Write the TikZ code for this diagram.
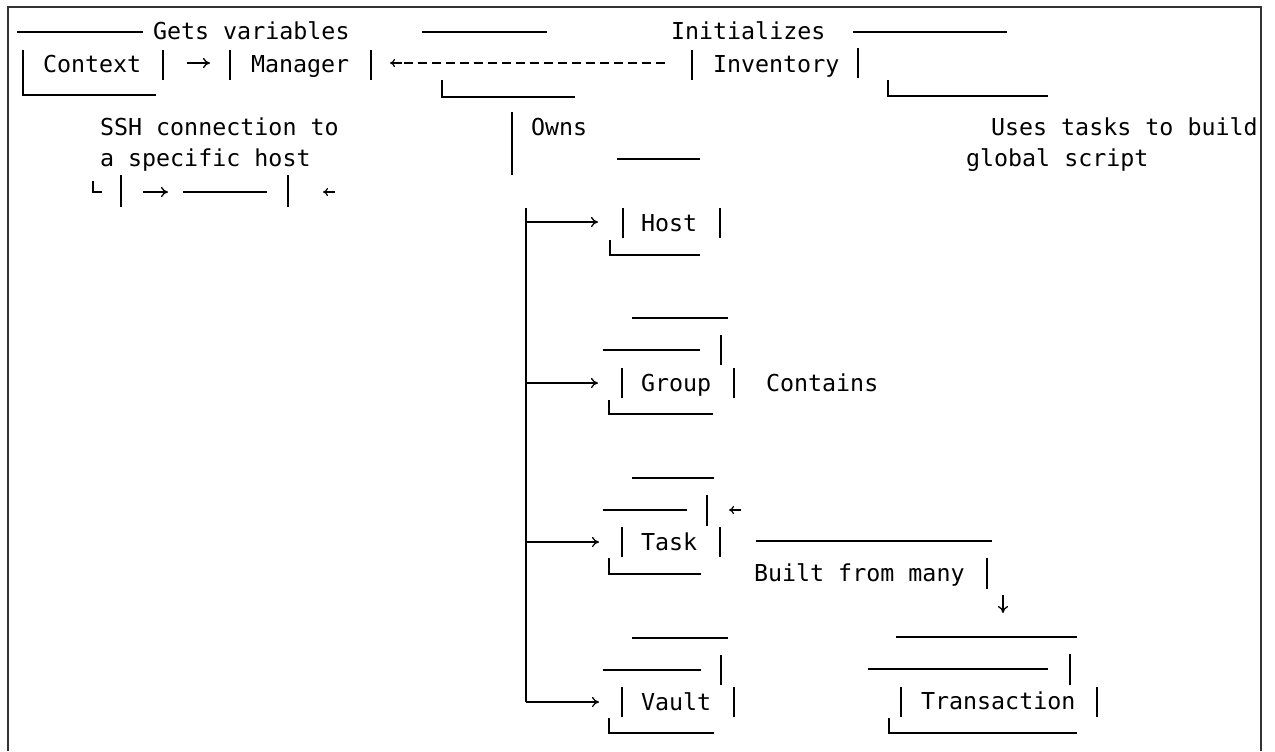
\documentclass[tikz,border=0pt]{standalone}
\usepackage{fontspec}
\newfontfamily\mono{DejaVu Sans Mono}
\usetikzlibrary{arrows.meta}
\begin{document}
\begin{tikzpicture}[x=0.5pt,y=-0.5pt,
  txt/.style={anchor=base west,inner sep=0pt,outer sep=0pt,font=\mono\fontsize{11.66}{14}\selectfont},
  ln/.style={line width=0.65pt},
  arr/.style={line width=0.65pt,-{To[length=3.5pt,width=5pt]}},
  larr/.style={line width=0.6pt,{To[length=2.5pt,width=4pt]}-},
  frame/.style={line width=0.7pt,black!80}]
\useasboundingbox (0,0) rectangle (1275,751);
\draw[frame] (8,751) -- (8,7) -- (1261,7) -- (1261,751);
% row 1
\draw[ln] (17,32) -- (143,32);
\node[txt] (gets) at (153,39) {Gets variables};
\draw[ln] (422,32) -- (547,32);
\node[txt] (init) at (671,39) {Initializes};
\draw[ln] (853,32) -- (1007,32);
% row 2
\draw[ln] (23,50) -- (23,95) -- (156,95);
\node[txt] (ctx) at (43,72) {Context};
\draw[ln] (163,50) -- (163,80);
\draw[arr] (187,63) -- (210,63);
\draw[ln] (230,50) -- (230,80);
\node[txt] (mgr) at (251,72) {Manager};
\draw[ln] (371,50) -- (371,80);
\draw[larr] (390,63) -- (402,63);
\draw[ln,dash pattern=on 4.5pt off 2.5pt] (404,63) -- (668,63);
\draw[ln] (692,50) -- (692,80);
\node[txt] (inv) at (713,72) {Inventory};
\draw[ln] (858,48) -- (858,78);
% row 3
\draw[ln] (442,80) -- (442,97) -- (575,97);
\draw[ln] (888,80) -- (888,96) -- (1048,96);
% rows 4-5
\node[txt] (ssh) at (100,135) {SSH connection to};
\draw[ln] (512,112) -- (512,175);
\node[txt] (owns) at (531,135) {Owns};
\node[txt] (uses) at (991,135) {Uses tasks to build};
\node[txt] (spec) at (100,166) {a specific host};
\draw[ln] (617,159) -- (700,159);
\node[txt] (glob) at (966,166) {global script};
% row 6
\draw[ln] (93,181) -- (93,192) -- (102,192);
\draw[ln] (121,175) -- (121,207);
\draw[arr] (143,192) -- (168,192);
\draw[ln] (183,192) -- (267,192);
\draw[ln] (288,175) -- (288,207);
\draw[larr] (323,192) -- (335,192);
% trunk
\draw[ln] (526,208) -- (526,702);
% Host
\draw[arr] (526,222) -- (598,222);
\draw[ln] (623,208) -- (623,238);
\node[txt] (host) at (641,231) {Host};
\draw[ln] (720,208) -- (720,238);
\draw[ln] (610,240) -- (610,255) -- (700,255);
% Group
\draw[ln] (632,318) -- (728,318);
\draw[ln] (603,350) -- (700,350);
\draw[ln] (721,335) -- (721,365);
\draw[arr] (526,383) -- (598,383);
\draw[ln] (622,368) -- (622,398);
\node[txt] (group) at (641,391) {Group};
\draw[ln] (734,368) -- (734,398);
\node[txt] (cont) at (766,391) {Contains};
\draw[ln] (609,400) -- (609,414) -- (713,414);
% Task
\draw[ln] (632,478) -- (714,478);
\draw[ln] (603,510) -- (687,510);
\draw[ln] (707,495) -- (707,526);
\draw[larr] (729,510) -- (741,510);
\draw[arr] (526,542) -- (599,542);
\draw[ln] (622,527) -- (622,557);
\node[txt] (task) at (641,550) {Task};
\draw[ln] (720,527) -- (720,557);
\draw[ln] (756,541) -- (992,541);
\draw[ln] (609,558) -- (609,574) -- (701,574);
\node[txt] (built) at (754,581) {Built from many};
\draw[ln] (987,558) -- (987,589);
\draw[arr] (1003,595) -- (1003,613);
% Vault and Transaction
\draw[ln] (632,638) -- (728,638);
\draw[ln] (896,637) -- (1077,637);
\draw[ln] (603,670) -- (701,670);
\draw[ln] (721,655) -- (721,685);
\draw[ln] (868,669) -- (1048,669);
\draw[ln] (1070,654) -- (1070,685);
\draw[arr] (526,702) -- (599,702);
\draw[ln] (622,687) -- (622,717);
\node[txt] (vault) at (641,710) {Vault};
\draw[ln] (734,687) -- (734,717);
\draw[ln] (901,687) -- (901,717);
\node[txt] (trans) at (921,709) {Transaction};
\draw[ln] (1097,687) -- (1097,717);
\draw[ln] (609,718) -- (609,733) -- (714,733);
\draw[ln] (889,718) -- (889,733) -- (1077,733);
\end{tikzpicture}
\end{document}
